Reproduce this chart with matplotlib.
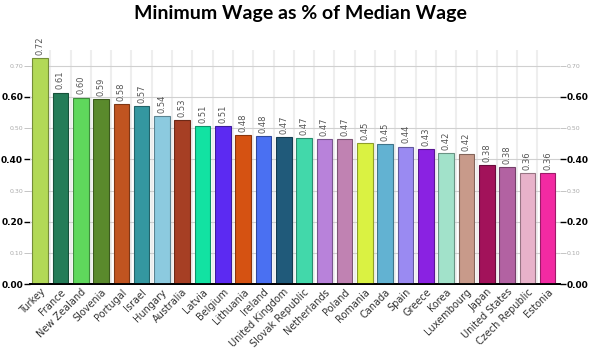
import numpy as np
import matplotlib.pyplot as plt
from matplotlib.ticker import FixedLocator
import matplotlib.colors as mcolors

countries = ["Turkey", "France", "New Zealand", "Slovenia", "Portugal", "Israel",
             "Hungary", "Australia", "Latvia", "Belgium", "Lithuania", "Ireland",
             "United Kingdom", "Slovak Republic", "Netherlands", "Poland", "Romania",
             "Canada", "Spain", "Greece", "Korea", "Luxembourg", "Japan",
             "United States", "Czech Republic", "Estonia"]
ratio = [0.724, 0.614, 0.598, 0.593, 0.577, 0.571, 0.539, 0.526, 0.508, 0.506,
         0.477, 0.476, 0.472, 0.469, 0.466, 0.466, 0.451, 0.448, 0.441, 0.433,
         0.421, 0.416, 0.381, 0.376, 0.357, 0.356]
colors = ["#b2d957", "#247c58", "#5fd85c", "#5a8a2c", "#c05420", "#3497a0",
          "#8ccadf", "#a63f24", "#12e2a2", "#5c2af2", "#d55212", "#4a70f2",
          "#205a7a", "#42d8aa", "#b882da", "#c082b2", "#daf242", "#62b2d2",
          "#9a8af2", "#8a22e2", "#a2e2ca", "#c89a8a", "#a2125a", "#b262a2",
          "#e8b2ca", "#f22aa2"]


def darker(c, f=0.65):
    r, g, b = mcolors.to_rgb(c)
    return (r * f, g * f, b * f)


fig = plt.figure(figsize=(6, 3.53), dpi=100)
ax = fig.add_axes([0.05, 0.195, 0.883, 0.663])

x = np.arange(len(countries))
ax.bar(x, ratio, width=0.77, color=colors,
       edgecolor=[darker(c) for c in colors], linewidth=0.8, zorder=3)

for xi, v in zip(x, ratio):
    ax.text(xi, v + 0.01, "%.2f" % v, rotation=90, ha="center", va="bottom",
            fontsize=6, color="#555555", zorder=4)

ax.set_xlim(-0.5, 25.6)
ax.set_ylim(0, 0.75)

# vertical light separators
for xs in np.arange(0.5, 25.5, 1):
    ax.axvline(xs, color="#eeeeee", linewidth=1.5, zorder=1)
for yv in np.arange(0.1, 0.75, 0.1):
    ax.axhline(yv, color="#d0d0d0", linewidth=0.8, zorder=2)

ax.set_xticks(x)
ax.set_xticklabels(countries, rotation=45, ha="right", rotation_mode="anchor",
                   fontsize=7, color="#333333")
ax.tick_params(axis="x", length=0, pad=2)

for a in (ax, ax.twinx()):
    a.set_ylim(0, 0.75)
    a.yaxis.set_major_locator(FixedLocator([0, 0.2, 0.4, 0.6]))
    a.yaxis.set_minor_locator(FixedLocator([0.1, 0.3, 0.5, 0.7]))
    a.yaxis.set_major_formatter(plt.FuncFormatter(lambda v, p: "%.2f" % v))
    a.yaxis.set_minor_formatter(plt.FuncFormatter(lambda v, p: "%.2f" % v))
    a.tick_params(axis="y", which="major", labelsize=6.5, length=4, width=1,
                  colors="black", pad=1)
    a.tick_params(axis="y", which="minor", labelsize=4.5, length=4, width=0.6,
                  colors="#bbbbbb", labelcolor="#aaaaaa", pad=1)
    for lbl in a.get_yticklabels():
        lbl.set_fontweight("bold")
    for s in ("top", "left", "right"):
        a.spines[s].set_visible(False)
    a.spines["bottom"].set_linewidth(1.3)
    a.spines["bottom"].set_color("black")

fig.suptitle("Minimum Wage as % of Median Wage", fontsize=14, fontweight="bold",
             fontfamily="Lato", y=0.985)

fig.savefig("out.png", dpi=100)
